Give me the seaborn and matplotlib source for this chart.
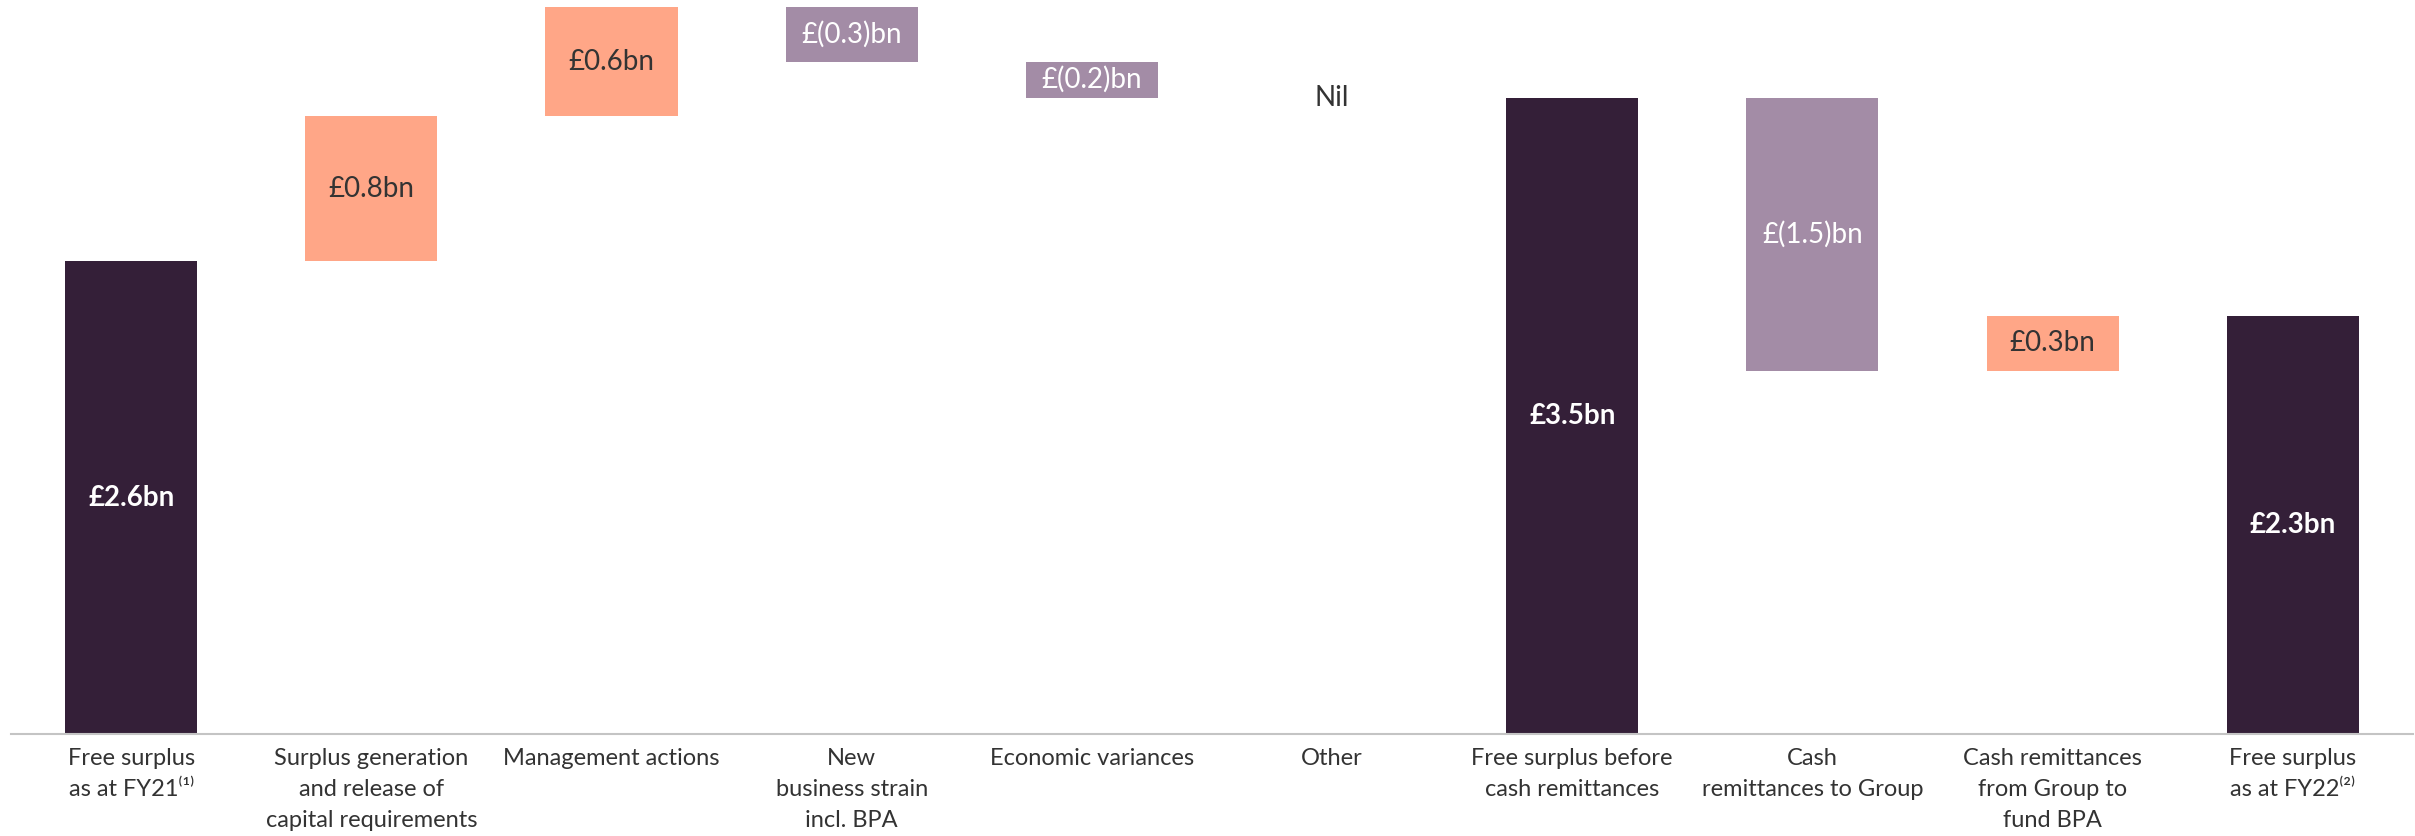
import numpy as np
import pandas as pd
import matplotlib
matplotlib.use("Agg")
import matplotlib.pyplot as plt
import seaborn as sns

# Free surplus bridge, £bn
categories = [
    "Free surplus\nas at FY21⁽¹⁾",
    "Surplus generation\nand release of\ncapital requirements",
    "Management actions",
    "New\nbusiness strain\nincl. BPA",
    "Economic variances",
    "Other",
    "Free surplus before\ncash remittances",
    "Cash\nremittances to Group",
    "Cash remittances\nfrom Group to\nfund BPA",
    "Free surplus\nas at FY22⁽²⁾",
]
values = [2.6, 0.8, 0.6, -0.3, -0.2, 0.0, 3.5, -1.5, 0.3, 2.3]
kinds = ["total", "step", "step", "step", "step", "step", "total", "step", "step", "total"]

DARK = "#341f38"
UP = "#ffa687"
DOWN = "#a38ca6"

# Waterfall geometry: totals start at zero, steps float on the running total
bottoms, heights, colors = [], [], []
running = 0.0
for v, k in zip(values, kinds):
    if k == "total":
        bottoms.append(0.0)
        heights.append(v)
        colors.append(DARK)
        running = v
    else:
        bottoms.append(min(running, running + v))
        heights.append(abs(v))
        colors.append(UP if v >= 0 else DOWN)
        running += v

df = pd.DataFrame({"category": categories, "height": heights})

sns.set_theme(style="white")
plt.rcParams["font.family"] = ["Lato", "DejaVu Sans"]

fig = plt.figure(figsize=(24.15, 8.36), dpi=100)
ax = fig.add_axes([0.0046, 0.122, 0.9945, 0.8696])

sns.barplot(data=df, x="category", y="height", hue="category",
            palette=colors, legend=False, width=0.55, saturation=1,
            linewidth=0, ax=ax)

# Lift each bar onto its running-total base
for patch, b in zip(ax.patches, bottoms):
    patch.set_y(b)

for i, (v, k, b, h) in enumerate(zip(values, kinds, bottoms, heights)):
    if k == "total":
        text, color, weight = f"£{v:.1f}bn", "white", "bold"
    elif v == 0:
        text, color, weight = "Nil", "#333333", "normal"
    elif v > 0:
        text, color, weight = f"£{v:.1f}bn", "#333333", "normal"
    else:
        text, color, weight = f"£({abs(v):.1f})bn", "white", "normal"
    ax.text(i, b + h / 2, text, ha="center", va="center",
            fontsize=20, color=color, fontweight=weight)

ax.set_xlim(-0.5, len(categories) - 0.5)
ax.set_ylim(0, 4.0)
ax.set_xlabel("")
ax.set_ylabel("")
ax.set_yticks([])
ax.tick_params(axis="x", length=0, pad=10, labelsize=17, labelcolor="#333333")
for s in ["top", "right", "left"]:
    ax.spines[s].set_visible(False)
ax.spines["bottom"].set_color("#c4c4c4")
ax.spines["bottom"].set_linewidth(1.5)
for lbl in ax.get_xticklabels():
    lbl.set_verticalalignment("top")
    lbl.set_linespacing(1.6)

fig.savefig("out.png", dpi=100, facecolor="white")
